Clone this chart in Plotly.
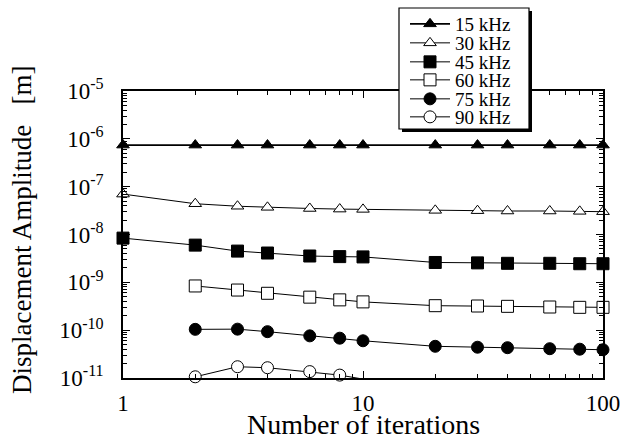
import plotly.graph_objects as go

# ---- data ----
x_full = [1, 2, 3, 4, 6, 8, 10, 20, 30, 40, 60, 80, 100]
x_from2 = [2, 3, 4, 6, 8, 10, 20, 30, 40, 60, 80, 100]
x_90 = [2, 3, 4, 6, 8, 10]

y_15 = [7.4e-7] * 13
y_30 = [7.0e-8, 4.4e-8, 3.9e-8, 3.7e-8, 3.5e-8, 3.4e-8, 3.35e-8, 3.2e-8, 3.15e-8, 3.1e-8, 3.1e-8, 3.05e-8, 3.0e-8]
y_45 = [8.4e-9, 6.0e-9, 4.5e-9, 4.1e-9, 3.55e-9, 3.45e-9, 3.4e-9, 2.6e-9, 2.55e-9, 2.5e-9, 2.5e-9, 2.45e-9, 2.45e-9]
y_60 = [8.4e-10, 6.9e-10, 5.9e-10, 4.9e-10, 4.3e-10, 3.9e-10, 3.25e-10, 3.2e-10, 3.15e-10, 3.05e-10, 3.0e-10, 3.0e-10]
y_75 = [1.04e-10, 1.05e-10, 9.3e-11, 7.6e-11, 6.8e-11, 6.0e-11, 4.6e-11, 4.4e-11, 4.3e-11, 4.1e-11, 4.0e-11, 3.9e-11]
y_90 = [1.06e-11, 1.72e-11, 1.64e-11, 1.36e-11, 1.15e-11, 9.5e-12]

series_names = ["15 kHz", "30 kHz", "45 kHz", "60 kHz", "75 kHz", "90 kHz"]

y_tick_vals = [1e-11, 1e-10, 1e-9, 1e-8, 1e-7, 1e-6, 1e-5]
y_tick_text = ["10<sup>-11</sup>", "10<sup>-10</sup>", "10<sup>-9</sup>", "10<sup>-8</sup>",
               "10<sup>-7</sup>", "10<sup>-6</sup>", "10<sup>-5</sup>"]
x_tick_vals = [1, 10, 100]
x_tick_text = ["1", "10", "100"]

FONT = "Liberation Serif"

series = [
    (x_full, y_15, "triangle-up", "black", 11, 1.8),
    (x_full, y_30, "triangle-up", "white", 11, 1.0),
    (x_full, y_45, "square", "black", 12, 1.0),
    (x_from2, y_60, "square", "white", 12, 1.0),
    (x_from2, y_75, "circle", "black", 12, 1.0),
    (x_90, y_90, "circle", "white", 12, 1.0),
]

fig = go.Figure()
legend_ids = ["legend", "legend2", "legend3", "legend4", "legend5", "legend6"]
for i, (xs, ys, sym, fill, size, lw) in enumerate(series):
    fig.add_trace(go.Scatter(
        x=xs, y=ys, mode="lines+markers", name=series_names[i],
        line=dict(color="black", width=lw),
        marker=dict(symbol=sym, size=size, color=fill, line=dict(color="black", width=1)),
        cliponaxis=False, legend=legend_ids[i],
    ))

W, H = 622, 439
L, R, T, B = 123, 19, 91, 61
PH = H - T - B
PW = W - L - R

def px_x(p):
    return (p - L) / PW

def px_y(p):
    return (H - B - p) / PH

minor_y = [m * 10.0 ** k for k in range(-11, -5) for m in range(2, 10)]
minor_x = [m * 10.0 ** k for k in range(0, 2) for m in range(2, 10)]

axis_common = dict(
    showline=True, linecolor="black", linewidth=1.5, mirror="allticks",
    ticks="inside", ticklen=7, tickwidth=1.2, tickcolor="black",
    showgrid=False, zeroline=False,
    tickfont=dict(family=FONT, size=23, color="black"),
)

fig.update_xaxes(
    type="log", range=[0, 2], tickmode="array", tickvals=x_tick_vals, ticktext=x_tick_text,
    minor=dict(tickmode="array", tickvals=minor_x, ticks="inside", ticklen=4, tickwidth=1, tickcolor="black"),
    ticklabelstandoff=4, **axis_common,
)
fig.update_yaxes(
    type="log", range=[-11, -5], tickmode="array", tickvals=y_tick_vals, ticktext=y_tick_text,
    minor=dict(tickmode="array", tickvals=minor_y, ticks="inside", ticklen=4, tickwidth=1, tickcolor="black"),
    ticklabelstandoff=13, **axis_common,
)

legend_centers_px = [24, 43, 62, 80, 99, 117]
layout_legends = {}
for i, lid in enumerate(legend_ids):
    layout_legends[lid] = dict(
        x=px_x(405), xanchor="left", y=px_y(legend_centers_px[i]), yanchor="middle",
        bgcolor="rgba(0,0,0,0)", borderwidth=0, itemwidth=40,
        font=dict(family=FONT, size=19, color="black"),
    )

fig.update_layout(
    width=W, height=H, margin=dict(l=L, r=R, t=T, b=B, autoexpand=False),
    paper_bgcolor="white", plot_bgcolor="white",
    showlegend=True,
    **layout_legends,
    shapes=[
        dict(type="rect", xref="paper", yref="paper", x0=px_x(402), x1=px_x(532),
             y0=px_y(132), y1=px_y(11), fillcolor="black", line=dict(width=0), layer="above"),
        dict(type="rect", xref="paper", yref="paper", x0=px_x(399), x1=px_x(529),
             y0=px_y(129), y1=px_y(8), fillcolor="white", line=dict(color="black", width=1.2), layer="above"),
    ],
    annotations=[
        dict(text="Number of iterations", xref="paper", yref="paper", x=px_x(363), y=px_y(424),
             xanchor="center", yanchor="middle", showarrow=False,
             font=dict(family=FONT, size=28, color="black")),
        dict(text="Displacement Amplitude\u00a0\u00a0\u00a0[m]", xref="paper", yref="paper",
             x=px_x(22), y=px_y(230), xanchor="center", yanchor="middle", textangle=-90,
             showarrow=False, font=dict(family=FONT, size=27, color="black")),
    ],
)

fig.write_html("out.html")
